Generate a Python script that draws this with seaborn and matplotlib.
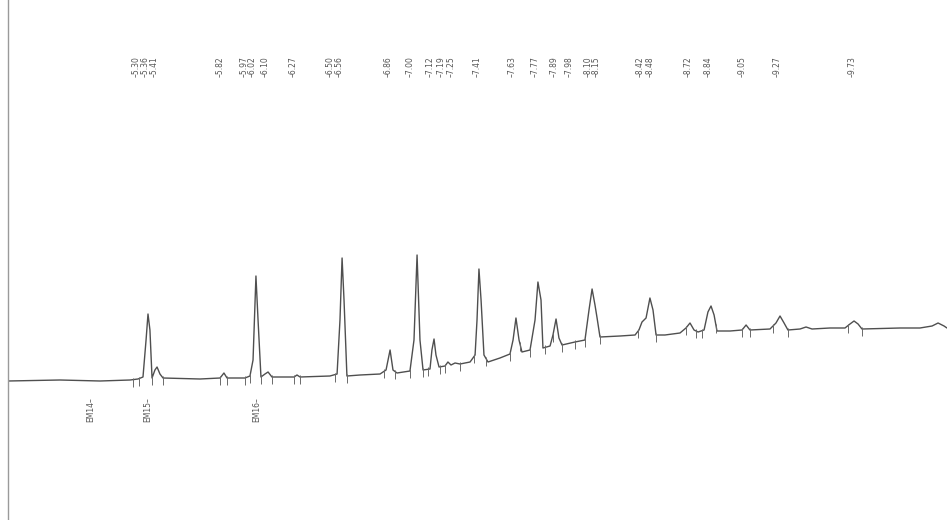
import matplotlib
matplotlib.use("Agg")
import matplotlib.pyplot as plt
import seaborn as sns
import pandas as pd
import numpy as np

# Chromatogram trace (retention time in min, signal in arbitrary units)
trace_time = [4.509, 4.830, 5.078, 5.264, 5.313, 5.344, 5.363, 5.375, 5.387, 5.400,
              5.418, 5.431, 5.449, 5.468, 5.697, 5.821, 5.845, 5.864, 5.975, 6.006,
              6.025, 6.043, 6.056, 6.074, 6.099, 6.118, 6.142, 6.279, 6.297, 6.316,
              6.501, 6.545, 6.563, 6.576, 6.588, 6.606, 6.687, 6.811, 6.848, 6.873,
              6.891, 6.916, 6.996, 7.021, 7.040, 7.058, 7.077, 7.120, 7.132, 7.145,
              7.157, 7.176, 7.213, 7.231, 7.250, 7.275, 7.306, 7.368, 7.399, 7.411,
              7.423, 7.436, 7.454, 7.479, 7.553, 7.615, 7.634, 7.652, 7.671, 7.689,
              7.739, 7.770, 7.788, 7.807, 7.819, 7.863, 7.881, 7.900, 7.918, 7.937,
              8.017, 8.079, 8.104, 8.123, 8.141, 8.154, 8.172, 8.296, 8.389, 8.413,
              8.432, 8.457, 8.481, 8.500, 8.519, 8.574, 8.667, 8.704, 8.729, 8.754,
              8.779, 8.816, 8.840, 8.859, 8.878, 8.896, 8.977, 9.051, 9.076, 9.100,
              9.224, 9.261, 9.286, 9.311, 9.335, 9.410, 9.447, 9.484, 9.595, 9.688,
              9.719, 9.744, 9.769, 9.793, 10.029, 10.152, 10.227, 10.264, 10.301, 10.319]
trace_signal = [19, 20, 19, 20, 21, 23, 60, 86, 70, 22,
                30, 33, 26, 22, 21, 22, 27, 22, 22, 24,
                40, 124, 80, 23, 26, 28, 23, 23, 25, 23,
                24, 26, 80, 142, 100, 24, 25, 26, 30, 50,
                30, 27, 29, 60, 145, 60, 30, 31, 50, 61,
                45, 33, 34, 38, 35, 37, 36, 38, 45, 80,
                131, 100, 45, 38, 42, 46, 60, 82, 60, 48,
                50, 80, 118, 100, 52, 54, 65, 81, 62, 55,
                58, 60, 90, 111, 95, 82, 63, 64, 65, 70,
                78, 82, 102, 90, 65, 65, 67, 72, 77, 70,
                68, 70, 88, 94, 85, 69, 69, 70, 75, 70,
                71, 77, 84, 77, 70, 71, 73, 71, 72, 72,
                76, 79, 76, 71, 72, 72, 74, 77, 74, 72]

# Integration start/end events (min)
event_times = [5.282, 5.319, 5.400, 5.468, 5.821, 5.864, 5.975, 6.006, 6.074, 6.142,
               6.279, 6.316, 6.532, 6.606, 6.835, 6.904, 6.996, 7.077, 7.108, 7.182,
               7.213, 7.306, 7.393, 7.467, 7.615, 7.677, 7.739, 7.832, 7.881, 7.937,
               8.017, 8.079, 8.172, 8.407, 8.519, 8.704, 8.766, 8.803, 8.890, 9.050,
               9.100, 9.243, 9.335, 9.707, 9.793]

# Retention-time annotations at the top
rt_labels = [5.30, 5.36, 5.41, 5.82, 5.97, 6.02, 6.10, 6.27, 6.50, 6.56,
             6.86, 7.00, 7.12, 7.19, 7.25, 7.41, 7.63, 7.77, 7.89, 7.98,
             8.10, 8.15, 8.42, 8.48, 8.72, 8.84, 9.05, 9.27, 9.73]

# Marker compounds at the bottom
em_names = ["EM14", "EM15", "EM16"]
em_times = [5.02, 5.375, 6.045]

df = pd.DataFrame({"time": trace_time, "signal": trace_signal})

sns.set_style("white")
plt.rcParams["font.family"] = ["DejaVu Sans"]

fig = plt.figure(figsize=(9.47, 5.20), dpi=100)
ax = fig.add_axes([8 / 947, 0.0, 939 / 947, 1.0])
sns.lineplot(data=df, x="time", y="signal", ax=ax, color="#4f4f4f", linewidth=1.0)

# small integration tick marks across the trace
ev_sig = np.interp(event_times, trace_time, trace_signal)
ax.vlines(event_times, ev_sig - 7, ev_sig + 2, color="#6a6a6a", linewidth=0.7)

ax.set_xlim(4.5087, 10.3193)
ax.set_ylim(-120, 400)
ax.set_xlabel("")
ax.set_ylabel("")
ax.set_xticks([])
ax.set_yticks([])
for side in ["top", "right", "bottom"]:
    ax.spines[side].set_visible(False)
ax.spines["left"].set_color("#9a9a9a")
ax.spines["left"].set_linewidth(1.0)

trans = ax.get_xaxis_transform()
for t in rt_labels:
    ax.text(t, 0.852, "\u2013" + f"{t:.2f}", rotation=90, transform=trans,
            ha="center", va="bottom", fontsize=5.5, color="#555555")
for name, t in zip(em_names, em_times):
    ax.text(t, 0.236, name + "\u2013", rotation=90, transform=trans,
            ha="center", va="top", fontsize=5.5, color="#555555")

fig.savefig("out.png", dpi=100, facecolor="white")
